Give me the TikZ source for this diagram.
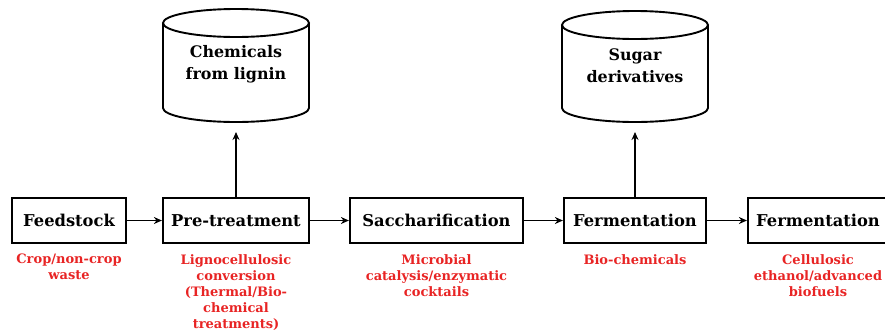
\documentclass[tikz,border=0pt]{standalone}
\usepackage{fontspec}
\setmainfont{DejaVu Serif}
\usetikzlibrary{arrows.meta}
\definecolor{notered}{RGB}{232,36,36}
\begin{document}
\begin{tikzpicture}[x=1pt,y=-1pt,
  stage/.style={draw, line width=2.2pt, minimum height=45pt, inner sep=0pt,
    font=\bfseries\fontsize{16.3}{18}\selectfont},
  note/.style={text=notered, align=center, inner sep=0pt,
    font=\bfseries\fontsize{13}{16}\selectfont, anchor=north},
  drumtext/.style={align=center, inner sep=0pt,
    font=\bfseries\fontsize{15.9}{22}\selectfont},
  drumline/.style={line width=1.9pt},
  flow/.style={line width=1.9pt, -{Stealth[length=8pt,width=7pt]}}]
\useasboundingbox (0,0) rectangle (885,330);
\begin{scope}
\clip (0,0) rectangle (885,330);

% process stages
\node[stage, minimum width=114pt] (feed) at (69,220.5) {Feedstock};
\node[stage, minimum width=146pt] (pre) at (236,220.5) {Pre-treatment};
\node[stage, minimum width=173pt] (sac) at (436.5,220.5) {Saccharification};
\node[stage, minimum width=142pt] (fer) at (635,220.5) {Fermentation};
\node[stage, minimum width=147pt] (fer2) at (821.5,220.5) {\hspace*{-7pt}Fermentation};

% product drums
\draw[drumline] (236,23) ellipse [x radius=73, y radius=14];
\draw[drumline] (163,23) -- (163,108) arc[start angle=180, end angle=0, x radius=73, y radius=14] -- (309,23);
\node[drumtext] (lignin) at (236,64) {Chemicals\\from lignin};
\coordinate (lignin-bot) at (236,122);

\draw[drumline] (635,25) ellipse [x radius=73, y radius=14];
\draw[drumline] (562,25) -- (562,108) arc[start angle=180, end angle=0, x radius=73, y radius=14] -- (708,25);
\node[drumtext] (sugar) at (635,66) {Sugar\\derivatives};
\coordinate (sugar-bot) at (635,122);

% connectors
\draw[flow] (feed) -- (pre);
\draw[flow] (pre) -- (sac);
\draw[flow] (sac) -- (fer);
\draw[flow] (fer) -- (fer2);
\draw[flow, shorten >=10pt] (pre.north) -- (pre.north |- lignin-bot);
\draw[flow, shorten >=10pt] (fer.north) -- (fer.north |- sugar-bot);

% annotations
\node[note] (n1) at (feed.south |- 0,254) {Crop/non-crop\\waste};
\node[note] (n2) at (pre.south |- 0,254) {Lignocellulosic\\conversion\\(Thermal/Bio-\\chemical\\treatments)};
\node[note] (n3) at (sac.south |- 0,254) {Microbial\\catalysis/enzymatic\\cocktails};
\node[note] (n4) at (fer.south |- 0,254) {Bio-chemicals};
\node[note] (n5) at (818,254) {Cellulosic\\ethanol/advanced\\biofuels};
\end{scope}
\end{tikzpicture}
\end{document}
